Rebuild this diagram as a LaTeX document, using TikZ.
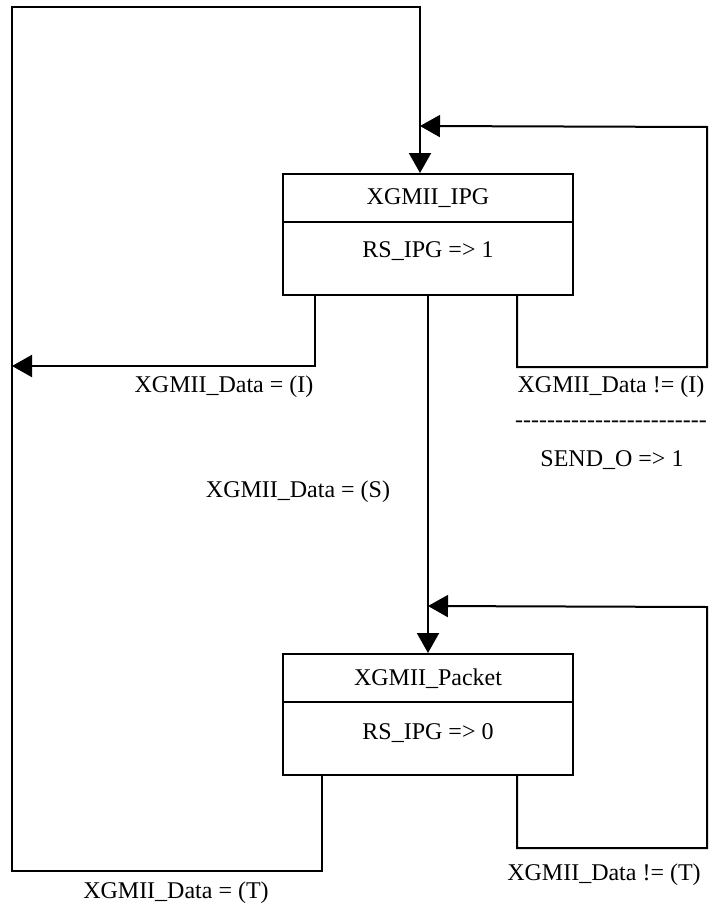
\documentclass[tikz,border=0pt]{standalone}
\usepackage{fontspec}
\setmainfont{Liberation Serif}
\usetikzlibrary{arrows.meta,calc}

\newcommand{\dashrow}{\foreach \k in {1,...,24}{-}}

\begin{document}
\begin{tikzpicture}[
  x=1pt, y=-1pt,
  every node/.style={font=\fontsize{24}{29}\selectfont, inner sep=0pt},
  statebox/.style={draw, line width=2pt, minimum width=290pt, minimum height=121pt},
  trans/.style={line width=2pt, -{Triangle[length=20pt,width=22pt]}},
]
  \useasboundingbox (0,0) rectangle (713,915);

  \node[statebox] (ipg) at (428,234.5) {};
  \node (ipgname) at ([yshift=-25pt]ipg.north) {XGMII\_IPG};
  \node (ipgout) at ([yshift=-78pt]ipg.north) {RS\_IPG => 1};
  \draw[line width=2pt] ([yshift=-49pt]ipg.north west) -- ([yshift=-49pt]ipg.north east);

  \node[statebox] (pkt) at (428,714.5) {};
  \node (pktname) at ([yshift=-26pt]pkt.north) {XGMII\_Packet};
  \node (pktout) at ([yshift=-80pt]pkt.north) {RS\_IPG => 0};
  \draw[line width=2pt] ([yshift=-49pt]pkt.north west) -- ([yshift=-49pt]pkt.north east);

  \coordinate (nw) at (12,7);
  \coordinate (ipgloop) at (707,127);
  \coordinate (pktloop) at (707,607);

  \draw[trans] ($(ipg.south west)+(33,0)$) |- (nw |- 0,366);
  \draw[trans] ($(ipg.south east)+(-57,0)$) -- ++(0,71) -| (ipgloop) -- ($(ipg.north)+(-8,-47)$);
  \draw[trans] (ipg.south) -- (pkt.north);
  \draw[trans] ($(pkt.south east)+(-57,0)$) -- ++(0,72) -| (pktloop) -- ($(pkt.north)+(0,-47)$);
  \draw[trans] ($(pkt.south west)+(40,0)$) -- ++(0,95) -| (nw) -| ($(ipg.north)+(-8,0)$);

  \node (toidle) at (224,387) {XGMII\_Data = (I)};
  \node (stayidle) at (611,387) {XGMII\_Data != (I)};
  \node (sep) at (611,424) {\dashrow};
  \node (sendo) at (612,460) {SEND\_O => 1};
  \node (tostart) at (298,492) {XGMII\_Data = (S)};
  \node (staypkt) at (604,875) {XGMII\_Data != (T)};
  \node (toterm) at (176,893) {XGMII\_Data = (T)};
\end{tikzpicture}
\end{document}
